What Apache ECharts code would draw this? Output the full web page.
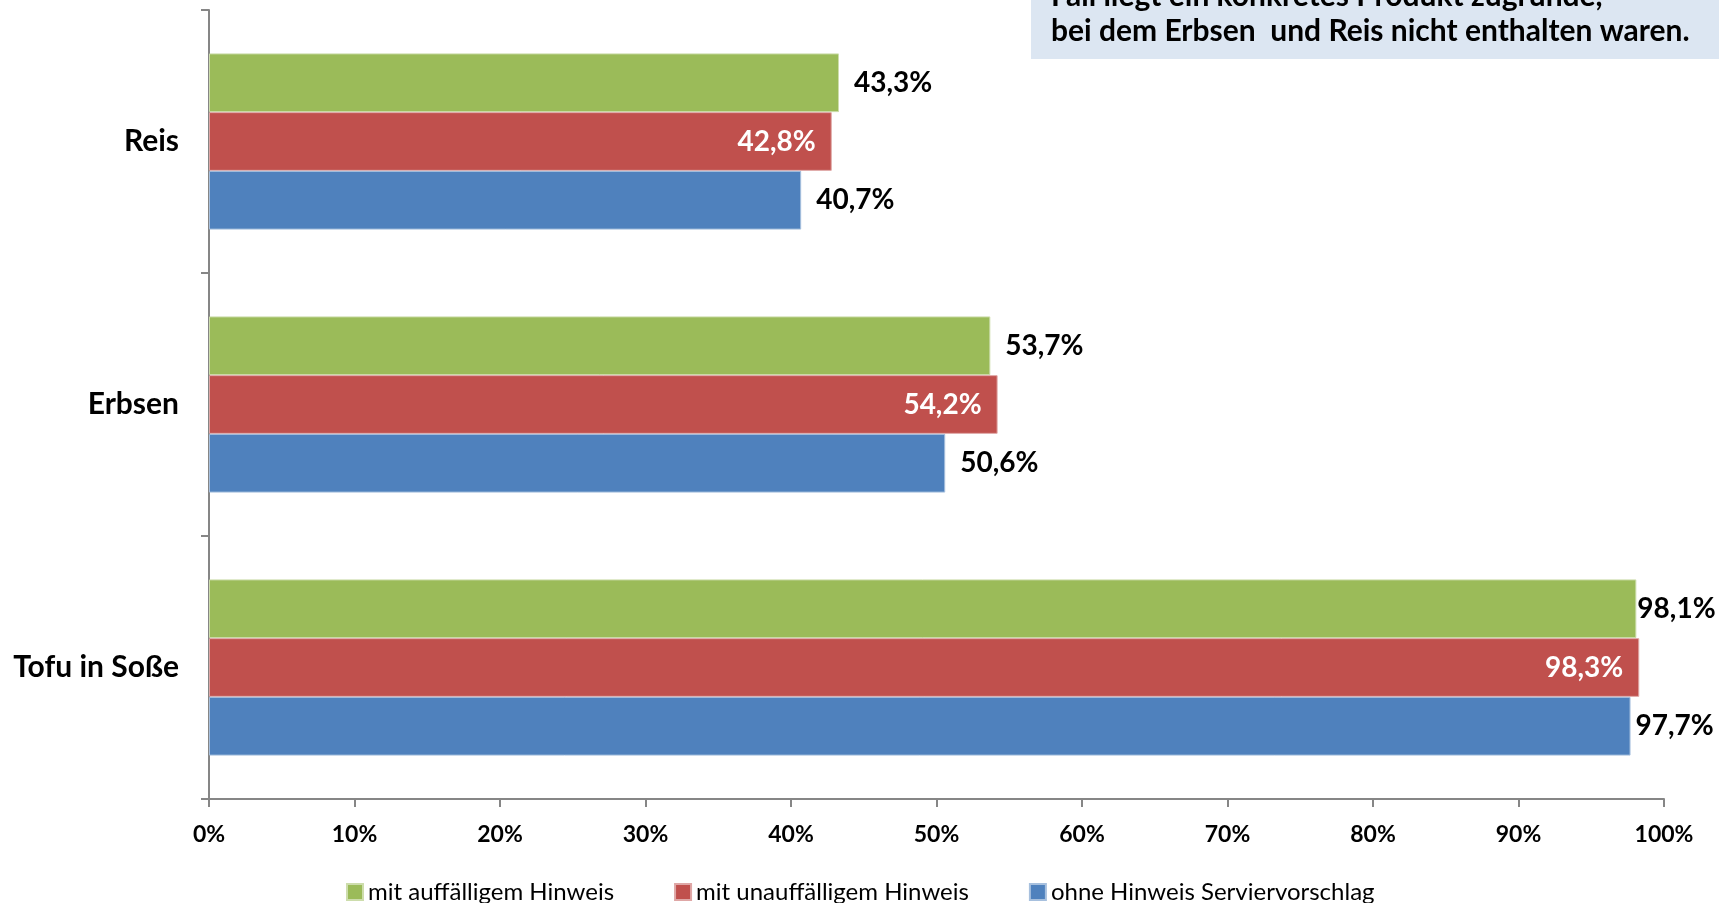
<!DOCTYPE html>
<html>
<head>
<meta charset="utf-8">
<script src="https://cdn.jsdelivr.net/npm/echarts@6/dist/echarts.min.js"></script>
<style>
  html, body { margin: 0; padding: 0; background: #fff; }
  #chart { width: 1733px; height: 903px; }
</style>
</head>
<body>
<div id="chart"></div>
<script>
// Kategorien von unten nach oben
var categories = ['Tofu in Soße', 'Erbsen', 'Reis'];
var seriesNames = ['mit auffälligem Hinweis', 'mit unauffälligem Hinweis', 'ohne Hinweis Serviervorschlag'];
var auffaellig = [98.1, 53.7, 43.3];
var unauffaellig = [98.3, 54.2, 42.8];
var ohneHinweis = [97.7, 50.6, 40.7];
var xTicks = [0, 10, 20, 30, 40, 50, 60, 70, 80, 90, 100];
var noteLines = ['Fall liegt ein konkretes Produkt zugrunde,', 'bei dem Erbsen  und Reis nicht enthalten waren.'];

var font = 'Lato, "Open Sans", sans-serif';
var chart = echarts.init(document.getElementById('chart'));

function fmt(p) {
  return p.value.toFixed(1).replace('.', ',') + '%';
}

// Beschriftung nah an den Balken, wenn der Platz rechts knapp wird
function outsideData(arr, dist) {
  return arr.map(function (v) {
    return v > 95 ? { value: v, label: { distance: dist } } : v;
  });
}

var option = {
  animation: false,
  textStyle: { fontFamily: font },
  grid: { left: 209, right: 69, top: 10, bottom: 104, containLabel: false },
  legend: {
    top: 875,
    left: 341,
    itemWidth: 16,
    itemHeight: 16,
    itemGap: 60,
    icon: 'rect',
    textStyle: { fontSize: 24, color: '#000', fontFamily: font },
    data: seriesNames
  },
  xAxis: {
    type: 'value',
    min: xTicks[0],
    max: xTicks[xTicks.length - 1],
    interval: 10,
    splitLine: { show: false },
    axisLine: { show: true, lineStyle: { color: '#868686', width: 2 } },
    axisTick: { show: true, length: 8, lineStyle: { color: '#868686', width: 2 } },
    axisLabel: {
      formatter: '{value}%',
      color: '#000',
      fontWeight: 'bold',
      fontSize: 23,
      margin: 24,
      fontFamily: font
    }
  },
  yAxis: {
    type: 'category',
    data: categories,
    axisLine: { show: true, lineStyle: { color: '#868686', width: 2 } },
    axisTick: { show: true, length: 8, lineStyle: { color: '#868686', width: 2 } },
    axisLabel: {
      color: '#000',
      fontWeight: 'bold',
      fontSize: 30,
      margin: 30,
      fontFamily: font
    }
  },
  series: [
    {
      name: seriesNames[0],
      type: 'bar',
      data: outsideData(auffaellig, 1),
      barGap: '0%',
      barCategoryGap: '33%',
      itemStyle: { color: '#9BBB59', borderColor: '#CDDDAC', borderWidth: 1 },
      label: { show: true, position: 'right', formatter: fmt, color: '#000', fontWeight: 'bold', fontSize: 28, distance: 15 }
    },
    {
      name: seriesNames[1],
      type: 'bar',
      data: unauffaellig,
      barGap: '0%',
      barCategoryGap: '33%',
      itemStyle: { color: '#C0504D', borderColor: '#DFA7A6', borderWidth: 1 },
      label: { show: true, position: 'insideRight', formatter: fmt, color: '#fff', fontWeight: 'bold', fontSize: 28, distance: 16 }
    },
    {
      name: seriesNames[2],
      type: 'bar',
      data: outsideData(ohneHinweis, 5),
      barGap: '0%',
      barCategoryGap: '33%',
      itemStyle: { color: '#4F81BD', borderColor: '#A7C0DE', borderWidth: 1 },
      label: { show: true, position: 'right', formatter: fmt, color: '#000', fontWeight: 'bold', fontSize: 28, distance: 15 }
    }
  ],
  graphic: [
    {
      type: 'rect',
      left: 1031,
      top: 0,
      shape: { width: 688, height: 59 },
      style: { fill: '#DCE6F2' }
    },
    {
      type: 'text',
      left: 1051,
      top: -19,
      style: { text: noteLines[0], fontSize: 30, fontWeight: 'bold', fill: '#000', fontFamily: font }
    },
    {
      type: 'text',
      left: 1051,
      top: 16,
      style: { text: noteLines[1], fontSize: 30, fontWeight: 'bold', fill: '#000', fontFamily: font }
    }
  ]
};

chart.setOption(option);
</script>
</body>
</html>
